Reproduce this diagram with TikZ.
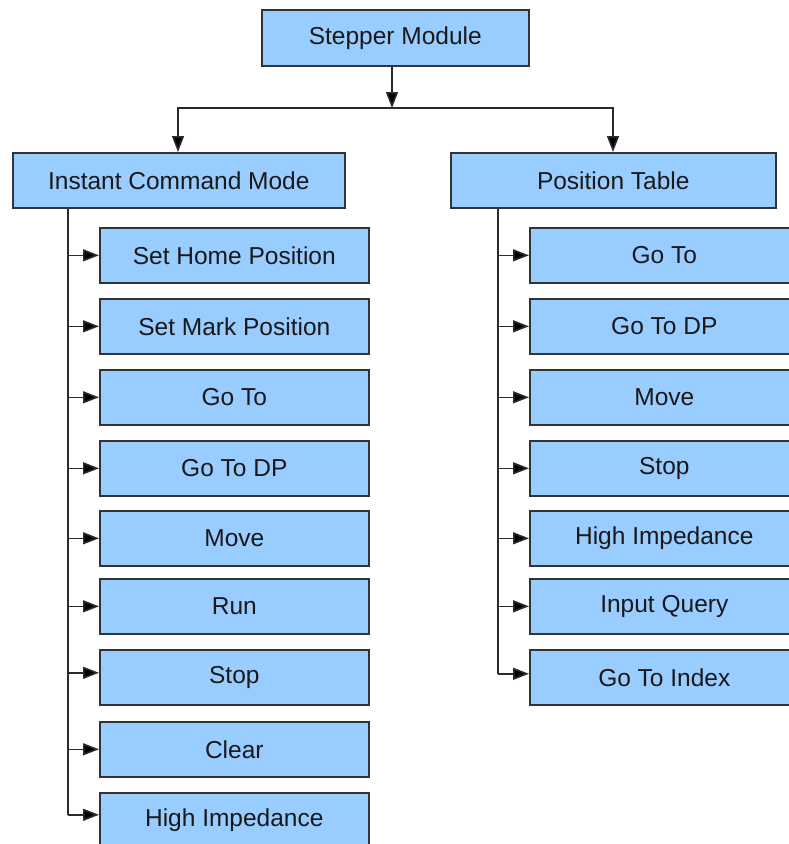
\documentclass[tikz,border=0pt]{standalone}
\usepackage{fontspec}
\setmainfont{Liberation Sans}
\usetikzlibrary{arrows.meta}
\definecolor{boxfill}{HTML}{99CCFF}
\definecolor{boxline}{HTML}{333333}
\definecolor{linecol}{HTML}{2B2B2B}
\tikzset{
  box/.style={draw=boxline, fill=boxfill, line width=1.6pt, minimum height=55pt,
    inner sep=0pt, anchor=north west, font=\fontsize{24.5}{28}\selectfont, text=black!90},
  child/.style={box, minimum width=269pt},
  conn/.style={draw=linecol, line width=1.6pt},
  arr/.style={conn, -{Triangle[length=16pt,width=12pt,fill=black]}},
}
\begin{document}
\begin{tikzpicture}[x=1pt,y=-1pt]
\useasboundingbox (0,0) rectangle (789,844);
\begin{scope}
\clip (0,0) rectangle (789,844);
% top
\node[box, minimum width=267pt, minimum height=56pt] (sm) at (261,9) {Stepper Module};
\node[box, minimum width=332pt] (icm) at (12,152) {Instant Command Mode};
\node[box, minimum width=325pt] (pt) at (450,152) {Position Table};
\coordinate (j) at (392,108);
\coordinate (sl) at (68,0);
\coordinate (sr) at (498,0);
% left children
\node[child] (l1) at (99,227) {Set Home Position};
\node[child] (l2) at (99,298) {Set Mark Position};
\node[child] (l3) at (99,369) {Go To};
\node[child] (l4) at (99,440) {Go To DP};
\node[child] (l5) at (99,510) {Move};
\node[child] (l6) at (99,578) {Run};
\node[child] (l7) at (99,649) {Stop};
\node[child] (l8) at (99,721) {Clear};
\node[child] (l9) at (99,792) {High Impedance};
% right children
\node[child] (r1) at (529,227) {Go To};
\node[child] (r2) at (529,298) {Go To DP};
\node[child] (r3) at (529,369) {Move};
\node[child] (r4) at (529,440) {Stop};
\node[child] (r5) at (529,510) {High Impedance};
\node[child] (r6) at (529,578) {Input Query};
\node[child] (r7) at (529,649) {Go To Index};
% top connectors
\draw[arr] (sm.south -| j) -- (j);
\draw[arr] (j) -| (icm.north -| 178,0);
\draw[arr] (j) -| (pt.north -| 613,0);
% left spine
\coordinate (lend) at ([yshift=5.5pt]l9.west);
\coordinate (lstop) at ([yshift=4.5pt]l7.west);
\draw[conn] (icm.south -| sl) -- (lend -| sl);
\foreach \n in {l1,l2,l3,l4,l5,l6,l8}{
  \draw[arr] (sl |- \n.west) -- (\n.west);
}
\draw[arr] (sl |- lstop) -- (lstop);
\draw[arr] (sl |- lend) -- (lend);
% right spine
\coordinate (rend) at ([yshift=3.5pt]r7.west);
\draw[conn] (pt.south -| sr) -- (rend -| sr);
\foreach \n in {r1,r2,r3,r4,r5,r6}{
  \draw[arr] (sr |- \n.west) -- (\n.west);
}
\draw[arr] (sr |- rend) -- (rend);
\end{scope}
\end{tikzpicture}
\end{document}
